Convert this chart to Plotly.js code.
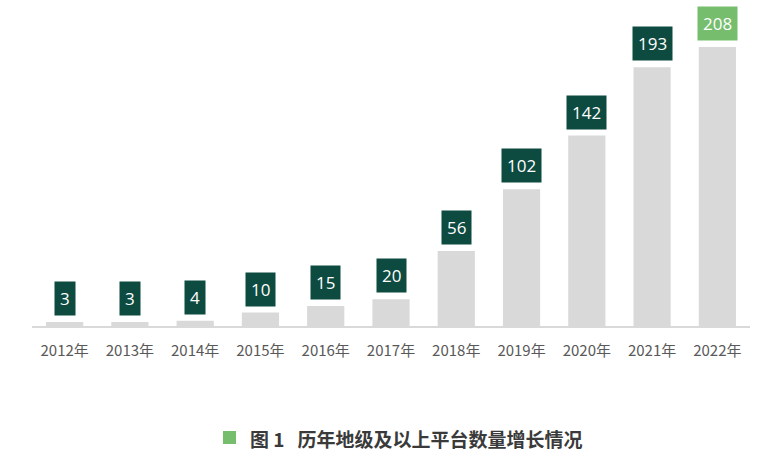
<!DOCTYPE html>
<html>
<head>
<meta charset="utf-8">
<script src="https://cdn.plot.ly/plotly-3.0.1.min.js"></script>
<style>html,body{margin:0;padding:0;background:#fff;}#chart{width:780px;height:459px;}</style>
</head>
<body>
<div id="chart"></div>
<script>
const years = ["2012年","2013年","2014年","2015年","2016年","2017年","2018年","2019年","2020年","2021年","2022年"];
const counts = [3, 3, 4, 10, 15, 20, 56, 102, 142, 193, 208];
const labelColors = ["#0d4a3f","#0d4a3f","#0d4a3f","#0d4a3f","#0d4a3f","#0d4a3f","#0d4a3f","#0d4a3f","#0d4a3f","#0d4a3f","#76bd6e"];
const figureTitle = "图 1  历年地级及以上平台数量增长情况";

const annotations = years.map((y, i) => ({
  x: y, y: counts[i], xref: "x", yref: "y",
  text: String(counts[i]), showarrow: false,
  yanchor: "bottom", yshift: 6,
  bgcolor: labelColors[i], borderpad: 5,
  font: {family: "Open Sans, Noto Sans, sans-serif", size: 17, color: "#ffffff"}
}));
annotations.push({
  xref: "paper", yref: "paper", x: (248 - 32) / 718, y: (326 - 438) / 306, xanchor: "left", yanchor: "middle",
  showarrow: false, text: "<b>" + figureTitle.replace("1  ", "1&nbsp;&nbsp;&nbsp;") + "</b>",
  font: {family: "Noto Sans CJK SC, sans-serif", size: 19, color: "#3a3a3a"}
});

Plotly.newPlot("chart", [{
  type: "bar", x: years, y: counts,
  marker: {color: "#d9d9d9"}, hoverinfo: "none"
}], {
  width: 780, height: 459,
  margin: {l: 32, r: 30, t: 20, b: 133},
  paper_bgcolor: "#ffffff", plot_bgcolor: "#ffffff",
  bargap: 0.43,
  showlegend: false,
  xaxis: {
    showline: true, linecolor: "#d9d9d9", linewidth: 1.5,
    ticks: "outside", ticklen: 10, tickcolor: "rgba(0,0,0,0)",
    tickfont: {family: "Noto Sans CJK SC, sans-serif", size: 15, color: "#595959"},
    showgrid: false, zeroline: false, fixedrange: true
  },
  yaxis: {range: [0, 228.2], visible: false, showgrid: false, zeroline: false},
  annotations: annotations,
  shapes: [{
    type: "rect", xref: "paper", yref: "paper",
    x0: (223 - 32) / 718, x1: (236 - 32) / 718,
    y0: (326 - 444) / 306, y1: (326 - 431) / 306,
    fillcolor: "#76bd6e", line: {width: 0}
  }]
}, {displayModeBar: false, staticPlot: true});
</script>
</body>
</html>
